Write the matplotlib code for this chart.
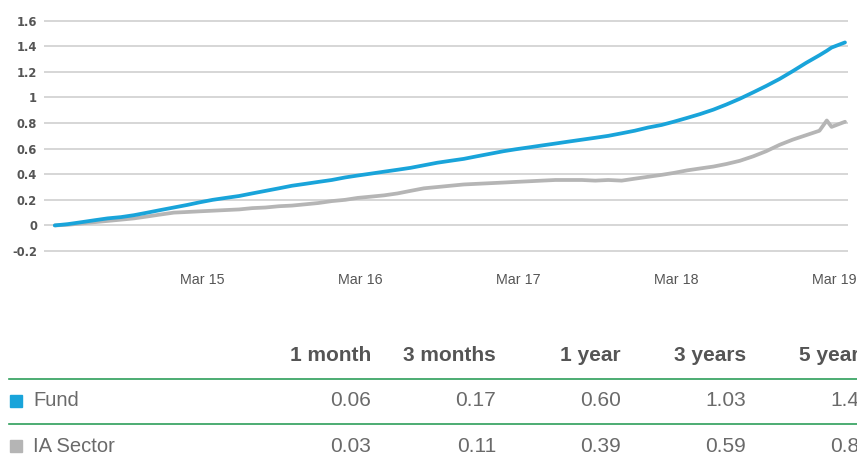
import numpy as np
import pandas as pd
import matplotlib
matplotlib.use("Agg")
import matplotlib.pyplot as plt
import matplotlib.dates as mdates
from matplotlib.lines import Line2D
from matplotlib.patches import Rectangle

# monthly points Apr 2014 .. Apr 2019, plus one mid-Feb 2019 point (sector spike)
dates = list(pd.date_range("2014-04-01", "2019-02-01", freq="MS")) + \
    [pd.Timestamp("2019-02-18"), pd.Timestamp("2019-03-01"), pd.Timestamp("2019-04-01")]

fund = [0.0, 0.01, 0.025, 0.04, 0.055, 0.065, 0.08, 0.10, 0.12, 0.14,
        0.16, 0.18, 0.20, 0.215, 0.23, 0.25, 0.27, 0.29, 0.31, 0.325,
        0.34, 0.355, 0.375, 0.39, 0.405, 0.42, 0.435, 0.45, 0.47, 0.49,
        0.505, 0.52, 0.54, 0.56, 0.58, 0.595, 0.61, 0.625, 0.64, 0.655,
        0.67, 0.685, 0.70, 0.72, 0.74, 0.765, 0.785, 0.81, 0.84, 0.87,
        0.905, 0.945, 0.99, 1.04, 1.09, 1.145, 1.205, 1.27, 1.33, 1.365,
        1.39, 1.43]
sector = [0.0, 0.005, 0.015, 0.025, 0.035, 0.045, 0.055, 0.07, 0.085, 0.10,
          0.105, 0.11, 0.115, 0.12, 0.125, 0.135, 0.14, 0.15, 0.155, 0.165,
          0.175, 0.19, 0.20, 0.215, 0.225, 0.235, 0.25, 0.27, 0.29, 0.30,
          0.31, 0.32, 0.325, 0.33, 0.335, 0.34, 0.345, 0.35, 0.355, 0.355,
          0.355, 0.35, 0.355, 0.35, 0.365, 0.38, 0.395, 0.41, 0.43, 0.445,
          0.46, 0.48, 0.505, 0.54, 0.58, 0.63, 0.67, 0.705, 0.74, 0.82,
          0.77, 0.81]

tick_dates = ["2015-03-08", "2016-03-08", "2017-03-08", "2018-03-08", "2019-03-08"]
tick_labels = ["Mar 15", "Mar 16", "Mar 17", "Mar 18", "Mar 19"]
yticks = [-0.2, 0, 0.2, 0.4, 0.6, 0.8, 1, 1.2, 1.4, 1.6]
ytick_labels = ["-0.2", "0", "0.2", "0.4", "0.6", "0.8", "1", "1.2", "1.4", "1.6"]

periods = ["1 month", "3 months", "1 year", "3 years", "5 years"]
rows = ["Fund", "IA Sector"]
fund_perf = ["0.06", "0.17", "0.60", "1.03", "1.44"]
sector_perf = ["0.03", "0.11", "0.39", "0.59", "0.81"]

blue = "#19a4da"
grey = "#b5b5b5"
W, H = 857, 465

fig = plt.figure(figsize=(W / 100, H / 100), dpi=100)
# y range padded slightly so the edge gridlines are not clipped
ax = fig.add_axes([44 / W, 1 - 252 / H, 804 / W, (252 - 19.7) / H])

ax.plot(dates, sector, color=grey, lw=2.7, solid_capstyle="round", zorder=3)
ax.plot(dates, fund, color=blue, lw=2.7, solid_capstyle="round", zorder=4)

ax.set_xlim(pd.Timestamp("2014-03-07"), pd.Timestamp("2019-04-08"))
ax.set_ylim(-0.2078, 1.6078)
ax.set_yticks(yticks)
ax.set_yticklabels(ytick_labels, fontsize=8.3, fontweight="bold", color="#555555",
                   family="DejaVu Sans")
ax.set_xticks([mdates.date2num(pd.Timestamp(d)) for d in tick_dates])
ax.set_xticklabels(tick_labels, fontsize=10.3, color="#555555", family="Liberation Sans")
ax.tick_params(axis="y", length=0, pad=5)
ax.tick_params(axis="x", length=0, pad=15)
ax.grid(axis="y", color="#cccccc", lw=1.1)
ax.set_axisbelow(True)
for s in ax.spines.values():
    s.set_visible(False)

# performance table under the chart
def fx(px):
    return px / W

def fy(py):
    return 1 - py / H

col_right = [371, 496, 621, 746, 871]
for x, p in zip(col_right, periods):
    fig.text(fx(x), fy(355), p, ha="right", va="center", fontsize=15,
             fontweight="bold", color="#555555", family="Liberation Sans")

for yy in (379, 424):
    fig.add_artist(Line2D([fx(9), 1.0], [fy(yy), fy(yy)], color="#2e9e5a", lw=1.2,
                          transform=fig.transFigure))

for yy, name, vals, c in [(401, rows[0], fund_perf, blue), (446, rows[1], sector_perf, grey)]:
    fig.add_artist(Rectangle((fx(10), fy(yy + 6)), 12 / W, 12 / H, color=c,
                             transform=fig.transFigure))
    fig.text(fx(33), fy(yy), name, ha="left", va="center", fontsize=14.5,
             color="#6a6a6a", family="Liberation Sans")
    for x, v in zip(col_right, vals):
        fig.text(fx(x), fy(yy), v, ha="right", va="center", fontsize=15,
                 color="#6a6a6a", family="Liberation Sans")

fig.savefig("out.png", dpi=100)
